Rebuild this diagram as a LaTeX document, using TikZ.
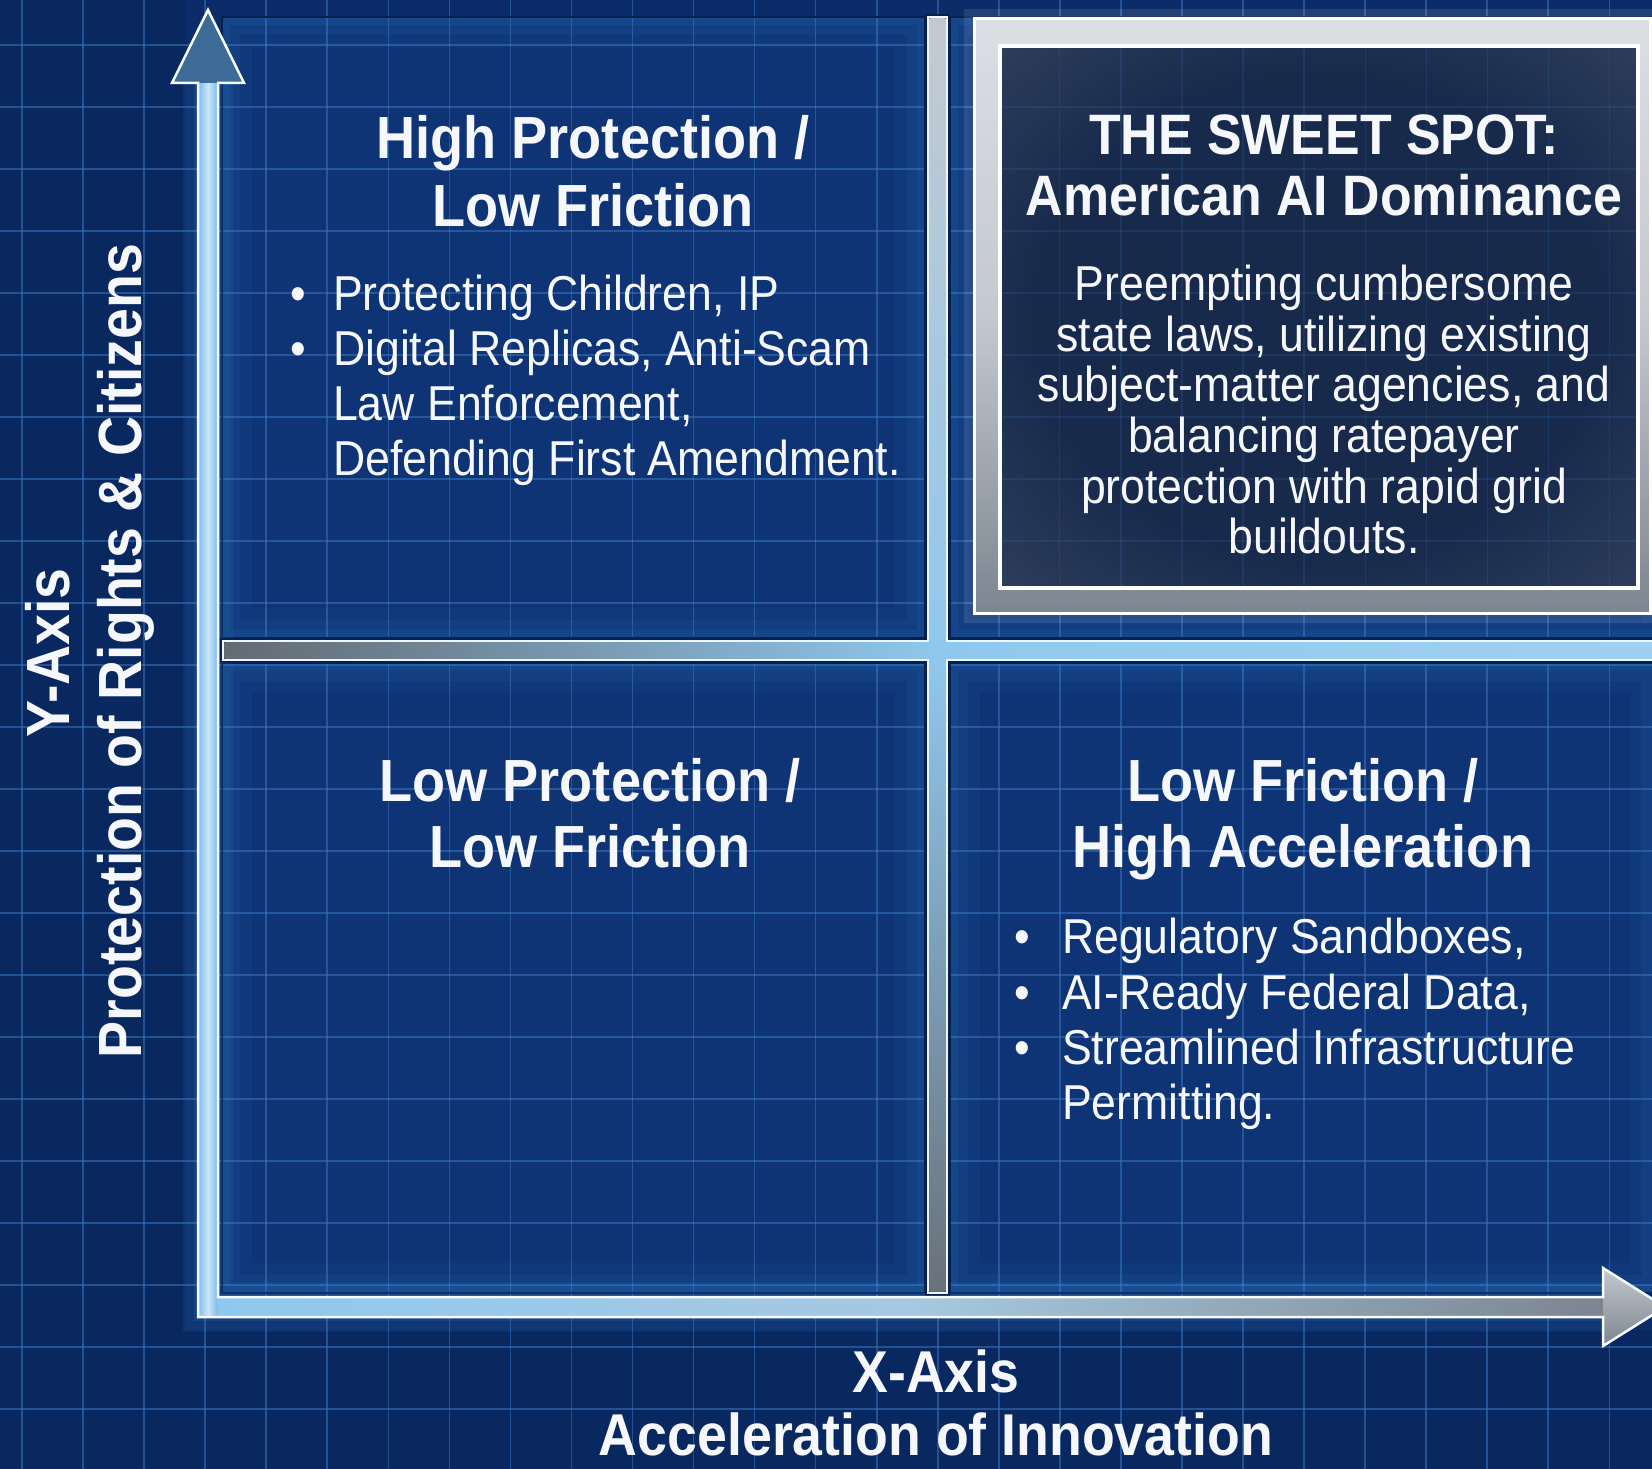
\documentclass[tikz,border=0pt]{standalone}
\usepackage{fontspec}
\setmainfont{Liberation Sans}[FakeStretch=0.91]
\definecolor{bgdark}{HTML}{07214F}
\definecolor{bgmain}{HTML}{0B2C68}
\definecolor{panelc}{HTML}{0E3475}
\definecolor{gridc}{HTML}{3F7BC4}
\definecolor{glowc}{HTML}{3D8FE2}
\definecolor{axisblue}{HTML}{8FC8EF}
\definecolor{headblue}{HTML}{3D6B98}
\definecolor{silverA}{HTML}{C4C9CF}
\definecolor{silverB}{HTML}{7C8590}
\definecolor{txt}{HTML}{F5F7FA}
\definecolor{boxdark}{HTML}{182A4C}
\definecolor{boxmid}{HTML}{2E3F5C}
\definecolor{boxedge}{HTML}{6E7B8E}
\pgfdeclareradialshading{boxvig}{\pgfpoint{0bp}{0bp}}{color(0bp)=(boxdark); color(22bp)=(boxdark); color(36bp)=(boxmid); color(48bp)=(boxedge); color(72bp)=(boxedge)}
\newcommand{\fqtitle}{\fontsize{59.5}{68}\selectfont\bfseries}
\newcommand{\fsstitle}{\fontsize{57}{60}\selectfont\bfseries}
\newcommand{\fqbody}{\fontsize{49}{55}\selectfont}
\newcommand{\faxlab}{\fontsize{59}{68}\selectfont\bfseries}
\newcommand{\fylab}{\fontsize{61}{70}\selectfont\bfseries}
\begin{document}
\begin{tikzpicture}[x=1pt,y=-1pt,
  gridline/.style={gridc, line width=1.6pt, opacity=0.5},
  paneldark/.style={draw=bgdark, line width=2.5pt},
  qtitle/.style={text=txt, font=\fqtitle, anchor=base, inner sep=0pt},
  sstitle/.style={text=txt, font=\fsstitle, anchor=base, inner sep=0pt},
  ssbody/.style={text=txt, font=\fqbody, anchor=base, inner sep=0pt},
  bline/.style={text=txt, font=\fqbody, anchor=base west, inner sep=0pt},
  bdot/.style={text=txt, font=\fqbody, anchor=base, inner sep=0pt},
  axlab/.style={text=txt, font=\faxlab, anchor=base, inner sep=0pt},
  ylab/.style={text=txt, font=\fylab, anchor=base, inner sep=0pt, rotate=90},
  glowA/.style={glowc, line width=30pt, opacity=0.06},
  glowB/.style={glowc, line width=18pt, opacity=0.07},
  glowC/.style={glowc, line width=8pt, opacity=0.09}]
\useasboundingbox (0,0) rectangle (1652,1469);
\clip (0,0) rectangle (1652,1469);
% background
\fill[bgmain] (0,0) rectangle (1652,1469);
\fill[bgdark, opacity=0.3] (0,0) rectangle (185,1469);
\fill[bgdark, opacity=0.3] (185,1330) rectangle (1652,1469);
% quadrant panels
\fill[panelc] (222,17) rectangle (925,638);
\fill[panelc] (222,663) rectangle (925,1293);
\fill[panelc] (950,663) rectangle (1652,1293);
\fill[panelc] (950,17) rectangle (1652,638);
% grid
\foreach \i in {0,...,27} \draw[gridline] ({22+61.05*\i},0) -- ({22+61.05*\i},1469);
\foreach \j in {-1,...,23} \draw[gridline] (0,{45+62*\j}) -- (1652,{45+62*\j});
% panel glows
\foreach \a/\b/\c/\d in {222/17/925/638, 222/663/925/1293, 950/663/1660/1293, 950/17/1660/638}{
  \draw[glowA] (\a+15,\b+15) rectangle (\c-15,\d-15);
  \draw[glowB] (\a+9,\b+9) rectangle (\c-9,\d-9);
  \draw[glowC] (\a+4,\b+4) rectangle (\c-4,\d-4);
  \draw[paneldark] (\a,\b) rectangle (\c,\d);
}
% axis glow
\draw[glowc, line width=50pt, opacity=0.1] (208,60) -- (208,1307) -- (1620,1307);
\draw[glowc, line width=28pt, opacity=0.14] (208,60) -- (208,1307) -- (1620,1307);
% dividers
\draw[bgdark, line width=6pt] (928,17) rectangle (947,1293);
\draw[bgdark, line width=6pt] (223,641) rectangle (1665,660);
\draw[white!85!axisblue, line width=2.5pt] (928,17) rectangle (947,1293);
\draw[white!85!axisblue, line width=2.5pt] (223,641) rectangle (1665,660);
\shade[top color=silverA, bottom color=silverB!85!black, middle color=axisblue] (929.6,18.6) rectangle (945.4,1291.4);
\shade[left color=silverB!80!black, right color=axisblue!85!white, middle color=axisblue] (224.6,642.6) rectangle (1665,658.4);
% axes
\shade[left color=axisblue!75!glowc, right color=axisblue!75!glowc, middle color=white!55!axisblue] (198,83) rectangle (218,1317);
\shade[left color=axisblue, right color=silverB, middle color=axisblue!55!silverA] (218,1297) rectangle (1603,1317);
\fill[headblue] (208,10) -- (244,83) -- (172,83) -- cycle;
\shade[top color=silverA, bottom color=silverB] (1603,1268) -- (1665,1307) -- (1603,1346) -- cycle;
\draw[white!92!axisblue, line width=2.5pt, line join=miter]
  (208,10) -- (244,83) -- (218,83) -- (218,1297) -- (1603,1297) -- (1603,1268)
  -- (1665,1307) -- (1603,1346) -- (1603,1317) -- (198,1317) -- (198,83) -- (172,83) -- cycle;
% sweet spot box
\fill[white, opacity=0.10] (964,9) rectangle (1660,623);
\shade[top color=silverA!60!white, bottom color=silverB, middle color=silverA] (974,19) rectangle (1650,613);
\draw[white, line width=3pt] (974,19) rectangle (1650,613);
\shade[shading=boxvig] (1000,46) rectangle (1638,588);
\begin{scope}
\clip (1000,46) rectangle (1638,588);
\foreach \i in {16,...,27} \draw[gridc, line width=1.2pt, opacity=0.16] ({22+61.05*\i},0) -- ({22+61.05*\i},650);
\foreach \j in {0,...,9} \draw[gridc, line width=1.2pt, opacity=0.16] (990,{45+62*\j}) -- (1652,{45+62*\j});
\end{scope}
\draw[white, line width=4pt] (1000,46) rectangle (1638,588);
% upper-left quadrant text
\node[qtitle] (ulA) at (593,158) {High Protection /};
\node[qtitle] (ulB) at (593,226) {Low Friction};
\node[bdot] (ulD1) at (298,310.5) {•};
\node[bdot] (ulD2) at (298,365.5) {•};
\node[bline] (ul1) at (333,310.5) {Protecting Children, IP};
\node[bline] (ul2) at (333,365.5) {Digital Replicas, Anti-Scam};
\node[bline] (ul3) at (333,420.5) {Law Enforcement,};
\node[bline] (ul4) at (333,475.5) {Defending First Amendment.};
% sweet spot text
\node[sstitle] (ssA) at (1324,155) {THE SWEET SPOT:};
\node[sstitle] (ssB) at (1324,215) {American AI Dominance};
\node[ssbody] (ss1) at (1324,300) {Preempting cumbersome};
\node[ssbody] (ss2) at (1324,351) {state laws, utilizing existing};
\node[ssbody] (ss3) at (1324,401) {subject-matter agencies, and};
\node[ssbody] (ss4) at (1324,452) {balancing ratepayer};
\node[ssbody] (ss5) at (1324,503) {protection with rapid grid};
\node[ssbody] (ss6) at (1324,553) {buildouts.};
% lower-left quadrant
\node[qtitle] (llA) at (590,801) {Low Protection /};
\node[qtitle] (llB) at (590,867) {Low Friction};
% lower-right quadrant
\node[qtitle] (lrA) at (1303,801) {Low Friction /};
\node[qtitle] (lrB) at (1303,867) {High Acceleration};
\node[bdot] (lrD1) at (1022,953) {•};
\node[bdot] (lrD2) at (1022,1009) {•};
\node[bdot] (lrD3) at (1022,1064) {•};
\node[bline] (lr1) at (1062,953) {Regulatory Sandboxes,};
\node[bline] (lr2) at (1062,1009) {AI-Ready Federal Data,};
\node[bline] (lr3) at (1062,1064) {Streamlined Infrastructure};
\node[bline] (lr4) at (1062,1119) {Permitting.};
% axis labels
\node[axlab] (xA) at (936,1392) {X-Axis};
\node[axlab] (xB) at (936,1455) {Acceleration of Innovation};
\node[ylab] (yA) at (69,653) {Y-Axis};
\node[ylab] (yB) at (141,651) {Protection of Rights \& Citizens};
\end{tikzpicture}
\end{document}
